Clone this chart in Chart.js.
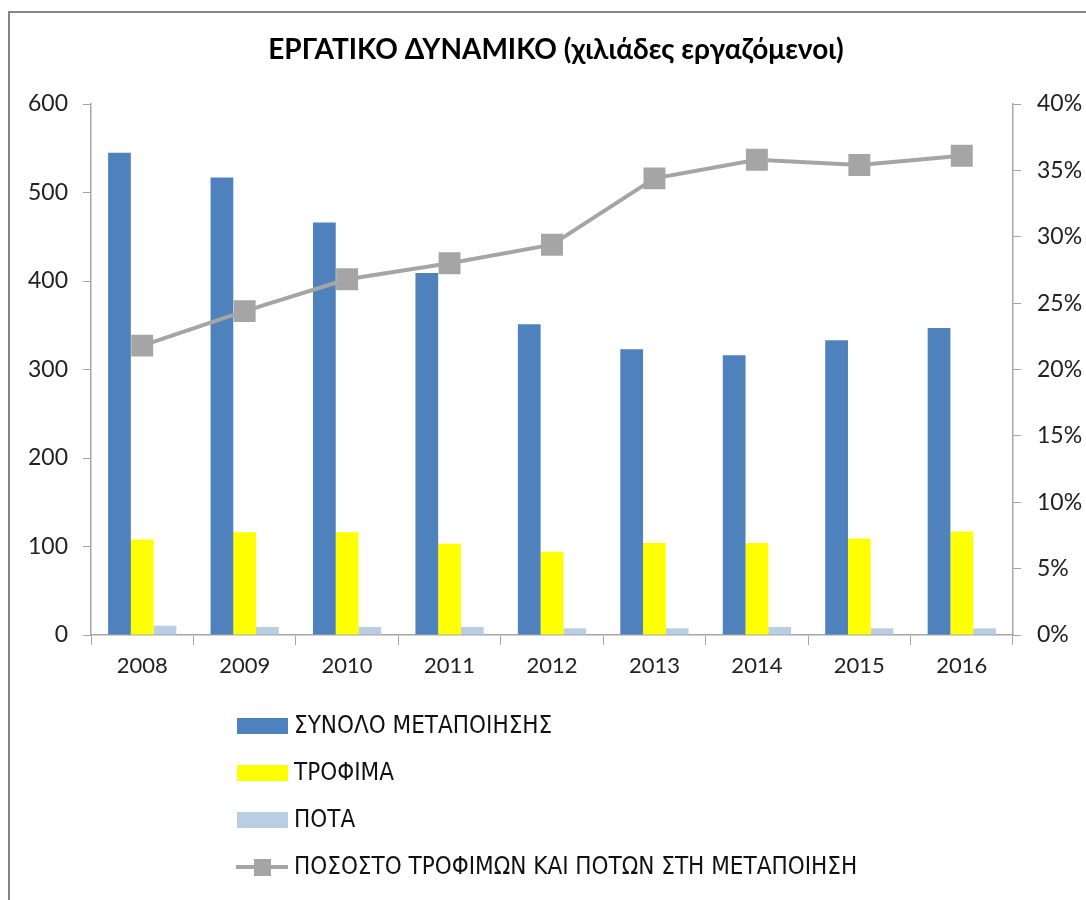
<!DOCTYPE html>
<html>
<head>
<meta charset="utf-8">
<script src="https://cdn.jsdelivr.net/npm/chart.js@4.4.1/dist/chart.umd.min.js"></script>
<style>
  html, body { margin: 0; padding: 0; background: #fff; overflow: hidden; }
  #wrap { width: 1086px; height: 900px; }
</style>
</head>
<body>
<div id="wrap"><canvas id="workforceChart" width="1086" height="900"></canvas></div>
<script>
// values (thousands of workers, share in %)
const years = ['2008', '2009', '2010', '2011', '2012', '2013', '2014', '2015', '2016'];
const totalManufacturing = [545, 517, 466, 409, 351, 323, 316, 333, 347];
const food = [108, 116, 116, 103, 94, 104, 104, 109, 117];
const drinks = [10.5, 9, 9, 9, 7.5, 7.5, 9, 7.5, 7.5];
const foodDrinkShare = [21.8, 24.4, 26.8, 28.0, 29.4, 34.4, 35.8, 35.4, 36.1];

const seriesNames = [
    'ΣΥΝΟΛΟ ΜΕΤΑΠΟΙΗΣΗΣ',
    'ΤΡΟΦΙΜΑ',
    'ΠΟΤΑ',
    'ΠΟΣΟΣΤΟ ΤΡΟΦΙΜΩΝ ΚΑΙ ΠΟΤΩΝ ΣΤΗ ΜΕΤΑΠΟΙΗΣΗ'
];
const chartTitle = 'ΕΡΓΑΤΙΚΟ ΔΥΝΑΜΙΚΟ (χιλιάδες εργαζόμενοι)';

const axisGray = '#a6a6a6';
const tickFont = { family: "Lato, 'Open Sans', sans-serif", size: 22 };
const legendFont = "24px 'Liberation Sans Narrow', 'DejaVu Sans Condensed', sans-serif";


// frame, title and a vertical legend like the excel one
const excelDecor = {
    id: 'excelDecor',
    beforeDraw(chart) {
        const ctx = chart.ctx;
        ctx.save();
        ctx.fillStyle = '#fff';
        ctx.fillRect(0, 0, chart.width, chart.height);
        ctx.strokeStyle = '#868686';
        ctx.lineWidth = 2;
        ctx.beginPath();
        ctx.moveTo(9, chart.height);
        ctx.lineTo(9, 12);
        ctx.lineTo(chart.width, 12);
        ctx.stroke();
        ctx.restore();
    },
    afterDraw(chart) {
        const ctx = chart.ctx;
        ctx.save();
        ctx.fillStyle = '#000';
        ctx.font = "bold 28px Lato, 'Open Sans', sans-serif";
        ctx.textAlign = 'center';
        ctx.textBaseline = 'middle';
        ctx.fillText(chartTitle, 556, 50);

        ctx.font = legendFont;
        ctx.textAlign = 'left';
        const rowY = [726, 773, 820, 867];
        chart.data.datasets.forEach((ds, i) => {
            const y = rowY[i];
            if (ds.type === 'line') {
                ctx.strokeStyle = ds.borderColor;
                ctx.lineWidth = 4;
                ctx.beginPath();
                ctx.moveTo(236, y);
                ctx.lineTo(288, y);
                ctx.stroke();
                ctx.fillStyle = ds.pointBackgroundColor;
                ctx.fillRect(254, y - 8, 17, 17);
            } else {
                ctx.fillStyle = ds.backgroundColor;
                ctx.fillRect(237, y - 8, 51, 16);
            }
            ctx.fillStyle = '#111';
            ctx.fillText(ds.label, 294, y + 1);
        });
        ctx.restore();
    }
};


new Chart(document.getElementById('workforceChart'), {
    type: 'bar',
    data: {
        labels: years,
        datasets: [
            {
                label: seriesNames[0],
                data: totalManufacturing,
                backgroundColor: '#4f81bd',
                yAxisID: 'y',
                order: 1
            },
            {
                label: seriesNames[1],
                data: food,
                backgroundColor: '#ffff00',
                yAxisID: 'y',
                order: 1
            },
            {
                label: seriesNames[2],
                data: drinks,
                backgroundColor: '#b9cde5',
                yAxisID: 'y',
                order: 1
            },
            {
                type: 'line',
                label: seriesNames[3],
                data: foodDrinkShare,
                borderColor: '#a5a5a5',
                borderWidth: 4,
                pointStyle: 'rect',
                pointRadius: 15.5,
                pointBackgroundColor: '#a5a5a5',
                pointBorderWidth: 0,
                tension: 0,
                yAxisID: 'y1',
                order: 0
            }
        ]
    },
    options: {
        responsive: false,
        animation: false,
        layout: {
            padding: { top: 104, left: 0, right: 0, bottom: 0 }
        },
        datasets: {
            bar: {
                categoryPercentage: 0.666,
                barPercentage: 1.0
            }
        },
        plugins: {
            legend: { display: false },
            title: { display: false },
            tooltip: { enabled: false }
        },
        scales: {
            x: {
                grid: {
                    drawOnChartArea: false,
                    drawTicks: true,
                    tickLength: 10,
                    color: axisGray
                },
                border: { display: true, color: axisGray, width: 1.5 },
                ticks: { font: tickFont, color: '#222', padding: 8 },
                afterFit: function (scale) {
                    scale.height = 265;
                }
            },
            y: {
                position: 'left',
                min: 0,
                max: 600,
                ticks: { stepSize: 100, font: { family: tickFont.family, size: 23 }, color: '#222', padding: 15 },
                grid: {
                    drawOnChartArea: false,
                    drawTicks: true,
                    tickLength: 8,
                    color: axisGray
                },
                border: { display: true, color: axisGray, width: 1.5 },
                afterFit: function (scale) {
                    scale.width = 91;
                }
            },
            y1: {
                position: 'right',
                min: 0,
                max: 40,
                ticks: {
                    stepSize: 5,
                    font: { family: tickFont.family, size: 23 },
                    color: '#222',
                    padding: 16,
                    callback: function (value) {
                        return value + '%';
                    }
                },
                grid: {
                    drawOnChartArea: false,
                    drawTicks: true,
                    tickLength: 8,
                    color: axisGray
                },
                border: { display: true, color: axisGray, width: 1.5 },
                afterFit: function (scale) {
                    scale.width = 73;
                }
            }
        }
    },
    plugins: [excelDecor]
});
</script>
</body>
</html>
